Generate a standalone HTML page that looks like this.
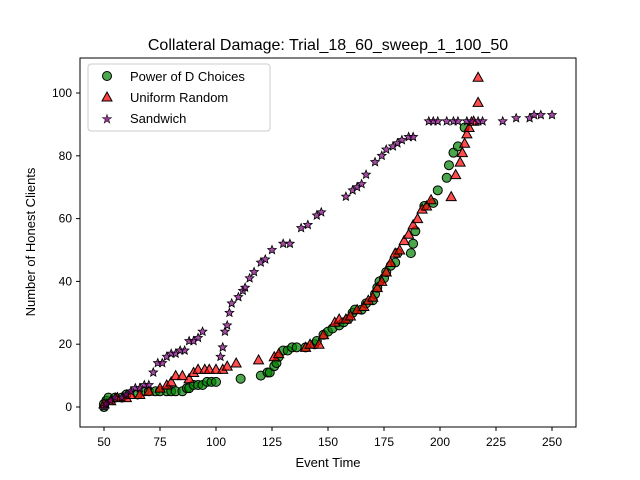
<!DOCTYPE html>
<html><head><meta charset="utf-8"><style>
body{margin:0;background:#fff}
svg{display:block;font-family:"Liberation Sans","DejaVu Sans",sans-serif}
</style></head><body>
<svg id="chart" width="640" height="480">
<rect width="640" height="480" fill="#fff"/>
<text x="328" y="50" text-anchor="middle" font-size="16">Collateral Damage: Trial_18_60_sweep_1_100_50</text>
<g id="marks"></g>
<rect x="80" y="58" width="496" height="369" fill="none" stroke="#000" stroke-width="1"/>
<g id="axes"></g>
<text x="328" y="467" text-anchor="middle" font-size="13">Event Time</text>
<text transform="translate(35,242) rotate(-90)" text-anchor="middle" font-size="13">Number of Honest Clients</text>
<g>
<rect x="88" y="64" width="182" height="67" rx="3" fill="#fff" fill-opacity="0.8" stroke="#ccc"/>
<g><circle cx="107" cy="76" r="4.5" fill="rgba(0,128,0,0.7)" stroke="#000"/><text x="130" y="81" font-size="13">Power of D Choices</text></g>
<g><path d="M107,92 L112,101 L102,101 Z" fill="rgba(255,0,0,0.75)" stroke="#000"/><text x="130" y="102" font-size="13">Uniform Random</text></g>
<g><text x="107" y="123" font-size="12" text-anchor="middle" fill="rgba(128,0,128,0.8)" stroke="#000" stroke-width="0.5">★</text><text x="130" y="123" font-size="13">Sandwich</text></g>
</g>
</svg>
<script>
const xTicks=[50,75,100,125,150,175,200,225,250];
const yTicks=[0,20,40,60,80,100];
const podX=[50,50,51,52,55,58,60,65,68,70,73,75,78,80,82,85,87,88,90,92,94,96,98,100,111,120,123,124,126,127,128,130,132,134,136,140,144,145,148,150,152,155,157,159,161,162,165,167,170,171,172,173,175,176,178,180,181,187,188,189,193,197,199,203,204,206,208,211];
const podY=[0,1,2,3,3,3,4,4,5,5,5,5,5,5,5,5,6,6,7,7,7,8,8,8,9,10,11,11,13,14,16,18,18,19,19,19,20,21,23,24,25,26,27,28,30,31,31,33,34,36,38,40,41,43,45,46,49,49,52,56,64,65,69,73,77,81,83,89];
const urX=[50,53,56,60,62,66,70,75,78,80,82,85,88,90,92,95,97,100,103,105,109,119,126,128,140,142,146,148,153,155,158,160,163,166,168,170,172,174,176,178,180,182,184,186,188,190,192,194,196,205,207,209,210,211,212,213,215,217,217];
const urY=[1,2,3,3,4,4,5,6,7,8,10,10,9,11,12,12,12,12,12,13,14,15,16,17,19,20,20,23,27,28,28,29,31,32,34,35,38,40,43,46,49,50,53,55,58,60,63,64,66,67,74,78,81,84,87,89,91,97,105];
const swX=[50,51,53,55,58,60,62,64,66,68,70,72,74,76,78,80,82,84,86,88,90,92,94,102,103,104,105,106,107,110,112,113,115,117,120,122,125,130,133,138,141,145,147,158,161,163,165,167,171,174,176,179,181,183,186,188,195,197,199,203,206,208,212,214,217,219,228,234,240,242,245,250];
const swY=[0,1,2,3,3,4,5,6,6,7,7,11,14,14,16,17,17,18,18,21,21,22,24,16,19,24,26,30,33,35,37,38,41,43,46,47,50,52,52,57,58,61,62,67,69,70,71,74,78,80,82,83,84,85,86,86,91,91,91,91,91,91,91,91,91,91,91,92,92,93,93,93];
const NS='http://www.w3.org/2000/svg';
const sx=v=>104+(v-50)*2.24, sy=v=>407-v*3.14;
const axes=document.getElementById('axes'), marks=document.getElementById('marks');
function mk(t,a,p){const e=document.createElementNS(NS,t);for(const k in a)e.setAttribute(k,a[k]);(p||axes).appendChild(e);return e;}
xTicks.forEach(v=>{const x=sx(v);
const t=mk('line',{x1:x,x2:x,y1:427,y2:431,stroke:'#000'});


const l=mk('text',{x:x,y:446,'text-anchor':'middle','font-size':12});l.textContent=v;

});
yTicks.forEach(v=>{const y=sy(v);
const t=mk('line',{x1:76,x2:80,y1:y,y2:y,stroke:'#000'});


const l=mk('text',{x:72,y:y+4,'text-anchor':'end','font-size':12});l.textContent=v;

});
podX.forEach((v,i)=>{const c=mk('circle',{cx:sx(v),cy:sy(podY[i]),r:4.5,fill:'rgba(0,128,0,0.7)',stroke:'#000','stroke-width':1},marks);

});
urX.forEach((v,i)=>{const x=sx(v),y=sy(urY[i]);const p=mk('path',{d:`M${x},${y-5} L${x+5},${y+4} L${x-5},${y+4} Z`,fill:'rgba(255,0,0,0.7)',stroke:'#000','stroke-width':1},marks);

});
function star(x,y,R){let d='';for(let k=0;k<10;k++){const r=k%2?R*0.45:R;const a=-Math.PI/2+k*Math.PI/5;d+=(k?'L':'M')+(x+r*Math.cos(a)).toFixed(2)+','+(y+r*Math.sin(a)).toFixed(2);}return d+'Z';}
swX.forEach((v,i)=>{const p=mk('path',{d:star(sx(v),sy(swY[i]),4.5),fill:'rgba(128,0,128,0.7)',stroke:'#000','stroke-width':0.8},marks);

});
</script>
</body></html>
